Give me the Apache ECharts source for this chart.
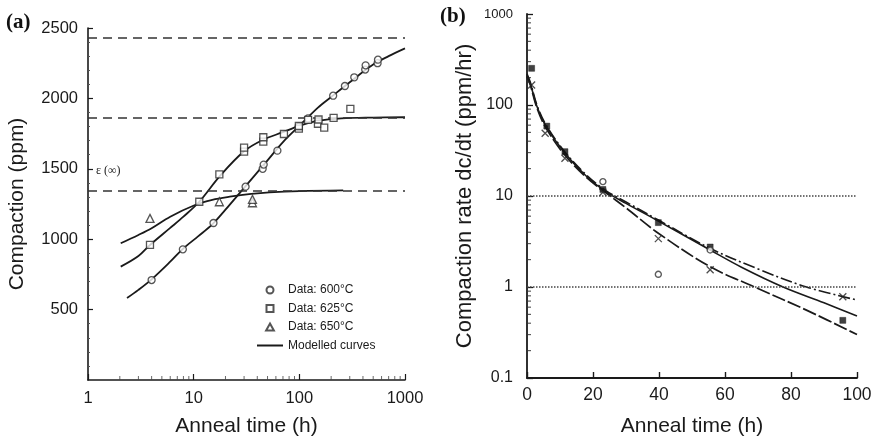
<!DOCTYPE html>
<html>
<head>
<meta charset="utf-8">
<script src="https://cdn.jsdelivr.net/npm/echarts@6/dist/echarts.min.js"></script>
<style>
  html, body { margin: 0; padding: 0; background: #fff; }
  #chart { width: 878px; height: 443px; }
</style>
</head>
<body>
<div id="chart"></div>
<script>
// ---------- Panel (a): compaction vs anneal time (log time axis) ----------
const data600 = [[4, 710], [7.9, 928], [15.4, 1115], [31, 1373], [45, 1500], [46, 1530], [62, 1629],
  [99, 1799], [121, 1858], [209, 2019], [270, 2088], [331, 2150], [420, 2205], [424, 2235], [550, 2250], [555, 2275]];
const data625 = [[3.86, 959], [11.3, 1266], [17.5, 1460], [30, 1622], [30, 1650], [45.6, 1693], [45.6, 1724],
  [71.5, 1747], [99, 1785], [99, 1804], [121, 1847], [150, 1820], [152, 1850], [172, 1792], [211, 1861], [304, 1925]];
const data650 = [[3.86, 1148], [17.5, 1266], [36, 1259], [36, 1283]];

const curve600 = [[2.34, 582], [3, 640], [4, 715], [6, 840], [8, 935], [11, 1020], [15, 1105], [20, 1210],
  [30, 1365], [50, 1560], [70, 1690], [100, 1805], [150, 1935], [200, 2010], [300, 2115], [500, 2240],
  [700, 2300], [1000, 2355]];
const curve625 = [[2.04, 805], [3, 880], [3.86, 959], [6, 1080], [8, 1160], [11.3, 1266], [18, 1455],
  [30, 1625], [45, 1705], [70, 1760], [100, 1805], [150, 1840], [250, 1858], [500, 1864], [1000, 1866]];
const curve650 = [[2.04, 971], [3, 1030], [4, 1078], [6, 1160], [10.3, 1243], [15, 1280], [22, 1302],
  [35, 1322], [52, 1333], [100, 1342], [260, 1347]];

// long-time limits ε(∞) for each temperature
const asymptotes = [2430, 1860, 1345];

const yTicksA = [500, 1000, 1500, 2000, 2500];
const xMinorTicksA = [2, 3, 4, 5, 6, 7, 8, 9, 20, 30, 40, 50, 60, 70, 80, 90, 200, 300, 400, 500, 600, 700, 800, 900];

// ---------- Panel (b): compaction rate vs anneal time ----------
const rateSquares = [[1.4, 253], [6, 58.6], [11.5, 30.7], [23, 11.8], [39.8, 5.1], [55.5, 2.75], [95.7, 0.43]];
const rateCrosses = [[1.4, 166], [5.5, 49], [11.5, 26], [23, 11], [39.8, 3.4], [55.5, 1.55], [95.7, 0.78]];
const rateCircles = [[23, 14.4], [39.8, 1.38], [55.5, 2.55]];

const rateUpper = [[0, 220], [1, 178], [3, 100], [5.5, 63], [11, 32], [18, 17], [24, 11.4], [30, 8.6],
  [39.8, 5.45], [55.5, 2.66], [70, 1.58], [84.7, 1.0], [100, 0.72]];
const rateMiddle = [[0, 212], [1, 172], [3, 97], [5.5, 61], [11, 31], [18, 16.5], [24, 11.1], [30, 8.3],
  [39.8, 5.3], [55.5, 2.55], [65, 1.65], [77.6, 1.0], [90, 0.67], [100, 0.48]];
const rateLower = [[0, 205], [1, 166], [3, 93], [5.5, 58], [11, 29.5], [18, 16], [24, 10.8], [30, 7.4],
  [39.8, 3.9], [55.5, 1.67], [69, 1.0], [85, 0.55], [100, 0.30]];

const rateGuides = [10, 1];
const yMinorTicksB = [0.2, 0.3, 0.4, 0.5, 0.6, 0.7, 0.8, 0.9, 2, 3, 4, 5, 6, 7, 8, 9,
  20, 30, 40, 50, 60, 70, 80, 90, 200, 300, 400, 500, 600, 700, 800, 900];

// ---------- styling ----------
const FONT = 'Liberation Sans, Arial, sans-serif';
const INK = '#1a1a1a';
const SQUARE = 'path://M0,0H10V10H0Z';
const TRIANGLE = 'path://M5,0L10,9L0,9Z';
const CROSS = 'path://M0,0L10,10M10,0L0,10';
const LINE_ICON = 'path://M0,0H26V2H0Z';
const VTICK = 'path://M0,0H1V10H0Z';
const HTICK = 'path://M0,0H10V1H0Z';

const hollow = { color: '#fff', borderColor: '#2a2a2a', borderWidth: 1.3 };
const curveStyle = { color: INK, width: 1.8, type: 'solid' };
const plain = function (v) { return String(v); };

const chart = echarts.init(document.getElementById('chart'), null, { renderer: 'canvas' });

chart.setOption({
  animation: false,
  backgroundColor: '#fff',
  textStyle: { fontFamily: FONT },
  grid: [
    { left: 88, top: 28, width: 317, height: 352, outerBoundsMode: 'none' },
    { left: 527, top: 14, width: 330, height: 364, outerBoundsMode: 'none' }
  ],
  xAxis: [
    {
      gridIndex: 0, type: 'log', logBase: 10, min: 1, max: 1000, position: 'bottom',
      axisLine: { lineStyle: { color: INK, width: 1.6 } },
      axisTick: { inside: true, length: 6, lineStyle: { color: INK, width: 1.2 } },
      axisLabel: { fontSize: 16.5, color: INK, margin: 10, fontFamily: FONT, formatter: plain },
      splitLine: { show: false },
      name: 'Anneal time (h)', nameLocation: 'middle', nameGap: 36,
      nameTextStyle: { fontSize: 21, color: INK, fontFamily: FONT }
    },
    {
      gridIndex: 1, type: 'value', min: 0, max: 100, interval: 20,
      axisLine: { lineStyle: { color: INK, width: 1.8 } },
      axisTick: { inside: true, length: 6, lineStyle: { color: INK, width: 1.4 } },
      axisLabel: { fontSize: 17.5, color: INK, margin: 8, fontFamily: FONT, formatter: plain },
      splitLine: { show: false },
      name: 'Anneal time (h)', nameLocation: 'middle', nameGap: 38,
      nameTextStyle: { fontSize: 21, color: INK, fontFamily: FONT }
    }
  ],
  yAxis: [
    {
      gridIndex: 0, type: 'value', min: 0, max: 2500, interval: 500,
      axisLine: { show: true, lineStyle: { color: INK, width: 1.6 } },
      axisTick: { show: true, inside: true, length: 5, customValues: yTicksA, lineStyle: { color: INK, width: 1.2 } },
      minorTick: { show: true, splitNumber: 5, length: 2, lineStyle: { color: '#555', width: 1 } },
      axisLabel: {
        fontSize: 16.5, color: INK, margin: 10, fontFamily: FONT,
        customValues: yTicksA, formatter: plain
      },
      splitLine: { show: false },
      name: 'Compaction (ppm)', nameLocation: 'middle', nameGap: 60,
      nameTextStyle: { fontSize: 21, color: INK, fontFamily: FONT }
    },
    {
      gridIndex: 1, type: 'log', logBase: 10, min: 0.1, max: 1000, position: 'left',
      axisLine: { show: true, lineStyle: { color: INK, width: 1.8 } },
      axisTick: { show: true, inside: true, length: 6, lineStyle: { color: INK, width: 1.3 } },
      axisLabel: {
        fontSize: 16, color: INK, margin: 14, fontFamily: FONT,
        formatter: function (v) { return v >= 1000 ? '{s|' + v + '}' : String(v); },
        rich: { s: { fontSize: 13, fontFamily: FONT, color: INK } }
      },
      splitLine: { show: false },
      name: 'Compaction rate dc/dt (ppm/hr)', nameLocation: 'middle', nameGap: 51,
      nameTextStyle: { fontSize: 22, color: INK, fontFamily: FONT }
    }
  ],
  legend: {
    orient: 'vertical', left: 252, top: 279,
    itemWidth: 26, itemHeight: 7, itemGap: 6.5, symbolKeepAspect: true,
    textStyle: { fontSize: 12, color: INK, fontFamily: FONT, lineHeight: 12 },
    selectedMode: false,
    data: [
      { name: 'Data: 600°C' },
      { name: 'Data: 625°C' },
      { name: 'Data: 650°C' },
      { name: 'Modelled curves', icon: LINE_ICON, itemStyle: { color: INK, borderWidth: 0 } }
    ]
  },
  graphic: [
    { type: 'text', left: 6, top: 12, style: { text: '(a)', font: 'bold 21px "Liberation Serif", "Times New Roman", serif', fill: '#111' } },
    { type: 'text', left: 440, top: 6, style: { text: '(b)', font: 'bold 21px "Liberation Serif", "Times New Roman", serif', fill: '#111' } },
    { type: 'text', left: 96, top: 165, style: { text: 'ε (∞)', font: '12px "Liberation Serif", "Times New Roman", serif', fill: '#222' } }
  ],
  series: [
    // ---- minor log ticks, placed through the axes' own scales ----
    {
      name: 'minor ticks a', type: 'scatter', xAxisIndex: 0, yAxisIndex: 0, silent: true, clip: false,
      data: xMinorTicksA.map(function (v) { return [v, 0]; }),
      symbol: VTICK, symbolSize: [1, 4], symbolOffset: [0, -2],
      itemStyle: { color: '#444' }, z: 2
    },
    {
      name: 'minor ticks b', type: 'scatter', xAxisIndex: 1, yAxisIndex: 1, silent: true, clip: false,
      data: yMinorTicksB.map(function (v) { return [0, v]; }),
      symbol: HTICK, symbolSize: [4, 1.2], symbolOffset: [2, 0],
      itemStyle: { color: '#333' }, z: 2
    },
    // ---- panel (a) modelled curves ----
    {
      name: 'Modelled curves', type: 'line', xAxisIndex: 0, yAxisIndex: 0,
      data: curve600, symbol: 'none', smooth: 0.35, lineStyle: curveStyle, itemStyle: { color: INK }, z: 3,
      markLine: {
        silent: true, symbol: ['none', 'none'], label: { show: false },
        lineStyle: { color: '#333', width: 1.7, type: [9, 6] },
        data: asymptotes.map(function (v) { return { yAxis: v }; })
      }
    },
    {
      name: 'Modelled curves', type: 'line', xAxisIndex: 0, yAxisIndex: 0,
      data: curve625, symbol: 'none', smooth: 0.35, lineStyle: curveStyle, itemStyle: { color: INK }, z: 3
    },
    {
      name: 'Modelled curves', type: 'line', xAxisIndex: 0, yAxisIndex: 0,
      data: curve650, symbol: 'none', smooth: 0.35, lineStyle: curveStyle, itemStyle: { color: INK }, z: 3
    },
    // ---- panel (a) measurements ----
    {
      name: 'Data: 600°C', type: 'scatter', xAxisIndex: 0, yAxisIndex: 0,
      data: data600, symbol: 'circle', symbolSize: 7, itemStyle: hollow, z: 5
    },
    {
      name: 'Data: 625°C', type: 'scatter', xAxisIndex: 0, yAxisIndex: 0,
      data: data625, symbol: SQUARE, symbolSize: 7, itemStyle: hollow, z: 5
    },
    {
      name: 'Data: 650°C', type: 'scatter', xAxisIndex: 0, yAxisIndex: 0,
      data: data650, symbol: TRIANGLE, symbolSize: 8, itemStyle: hollow, z: 5
    },
    // ---- panel (b) fitted rate curves ----
    {
      name: 'rate fit upper', type: 'line', xAxisIndex: 1, yAxisIndex: 1,
      data: rateUpper, symbol: 'none', smooth: 0.35,
      lineStyle: { color: INK, width: 1.6, type: [12, 3, 2, 3] }, z: 3,
      markLine: {
        silent: true, symbol: ['none', 'none'], label: { show: false },
        lineStyle: { color: '#444', width: 1.6, type: [1.5, 1.5] },
        data: rateGuides.map(function (v) { return { yAxis: v }; })
      }
    },
    {
      name: 'rate fit middle', type: 'line', xAxisIndex: 1, yAxisIndex: 1,
      data: rateMiddle, symbol: 'none', smooth: 0.35,
      lineStyle: { color: INK, width: 1.6, type: 'solid' }, z: 3
    },
    {
      name: 'rate fit lower', type: 'line', xAxisIndex: 1, yAxisIndex: 1,
      data: rateLower, symbol: 'none', smooth: 0.35,
      lineStyle: { color: INK, width: 1.7, type: [14, 3] }, z: 3
    },
    // ---- panel (b) measured rates ----
    {
      name: 'rate squares', type: 'scatter', xAxisIndex: 1, yAxisIndex: 1,
      data: rateSquares, symbol: SQUARE, symbolSize: 6,
      itemStyle: { color: '#111', borderColor: '#111', borderWidth: 0.5 }, z: 5
    },
    {
      name: 'rate crosses', type: 'scatter', xAxisIndex: 1, yAxisIndex: 1,
      data: rateCrosses, symbol: CROSS, symbolSize: 7,
      itemStyle: { color: 'rgba(0,0,0,0)', borderColor: '#222', borderWidth: 1.3 }, z: 5
    },
    {
      name: 'rate circles', type: 'scatter', xAxisIndex: 1, yAxisIndex: 1,
      data: rateCircles, symbol: 'circle', symbolSize: 6,
      itemStyle: { color: '#fff', borderColor: '#333', borderWidth: 1.4 }, z: 5
    }
  ]
});
</script>
</body>
</html>
